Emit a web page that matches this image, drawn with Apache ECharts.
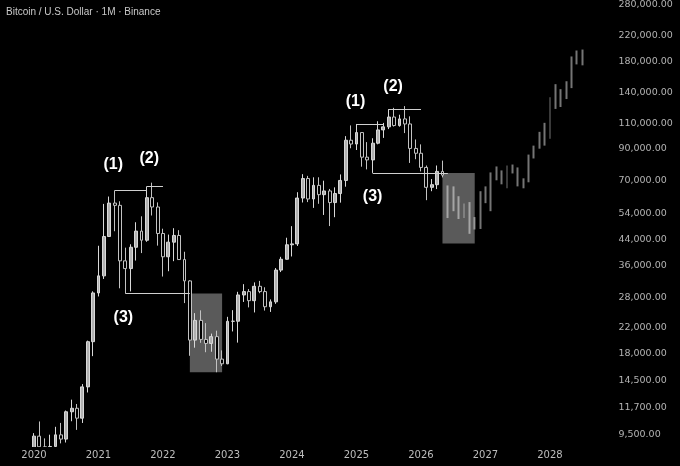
<!DOCTYPE html>
<html><head><meta charset="utf-8">
<script src="https://cdn.jsdelivr.net/npm/echarts@6/dist/echarts.min.js"></script>
<style>html,body{margin:0;padding:0;background:#000;}#c{width:680px;height:466px;}</style>
</head><body><div id="c"></div>
<script>
// ---- categories (monthly) ----
const months = [
 '2020-01','2020-02','2020-03','2020-04','2020-05','2020-06','2020-07','2020-08','2020-09','2020-10','2020-11','2020-12',
 '2021-01','2021-02','2021-03','2021-04','2021-05','2021-06','2021-07','2021-08','2021-09','2021-10','2021-11','2021-12',
 '2022-01','2022-02','2022-03','2022-04','2022-05','2022-06','2022-07','2022-08','2022-09','2022-10','2022-11','2022-12',
 '2023-01','2023-02','2023-03','2023-04','2023-05','2023-06','2023-07','2023-08','2023-09','2023-10','2023-11','2023-12',
 '2024-01','2024-02','2024-03','2024-04','2024-05','2024-06','2024-07','2024-08','2024-09','2024-10','2024-11','2024-12',
 '2025-01','2025-02','2025-03','2025-04','2025-05','2025-06','2025-07','2025-08','2025-09','2025-10','2025-11','2025-12',
 '2026-01','2026-02','2026-03','2026-04','2026-05','2026-06','2026-07','2026-08','2026-09','2026-10','2026-11','2026-12',
 '2027-01','2027-02','2027-03','2027-04','2027-05','2027-06','2027-07','2027-08','2027-09','2027-10','2027-11','2027-12',
 '2028-01','2028-02','2028-03','2028-04','2028-05','2028-06','2028-07','2028-08','2028-09','2028-10','2028-11'
];

// ---- actual monthly candles, from 2020-01 ----
const open = [
 7195,9352,8600,6412,8620,9448,9138,11335,11650,10777,13791,19695,
 28923,33092,45134,58739,57697,37254,35046,41462,47100,43821,61300,56951,
 46216,38467,43160,45510,37630,31801,19942,23296,20048,19423,20491,17165,
 16542,23125,23141,28465,29233,27210,30471,29232,25941,26962,34640,37723,
 42283,42580,61130,71280,60672,67540,62772,64628,58974,63328,70216,96408,
 93576,102429,84350,82548,94172,104591,107136,115764,108246,114049,109608,90360,
 87000,77800,66500,67900,75400
];
const high = [
 9578,10500,9188,9460,10067,10380,11444,12468,12050,14100,19863,29300,
 41950,58352,61844,64854,59592,41330,42448,50500,52920,67000,69000,59054,
 47990,45821,48190,47444,40023,31982,24668,25212,22800,20988,21480,18387,
 23960,25250,29184,31000,29820,31431,31804,30244,27483,35198,38450,44700,
 48969,64000,73777,72797,71979,71997,70079,65660,66498,73620,99588,108353,
 109588,102500,95000,97938,111980,110530,123218,124474,117900,126199,116400,97000,
 93300,79000,71000,79000,82100
];
const low = [
 6901,8450,3782,6150,8117,8833,8893,10518,9825,10375,13195,17572,
 28130,32296,44950,47044,30000,28805,29278,37332,39600,43283,53256,42000,
 32917,34322,37155,37578,26700,17622,18782,19520,18125,18190,15476,16256,
 16500,21351,19549,26942,25811,24800,28861,25166,24901,26538,34097,37615,
 38555,41884,59005,59191,56552,58402,53485,49000,52550,58946,66835,90500,
 89256,78258,76606,74508,93346,98200,105250,107350,107270,102000,80600,83000,
 75400,60100,64500,65600,71900
];
const close = [
 9352,8600,6410,8620,9448,9138,11335,11650,10777,13791,19695,28923,
 33092,45135,58740,57694,37253,35045,41462,47100,43824,61300,56950,46217,
 38467,43160,45511,37630,31801,19942,23293,20050,19423,20491,17164,16542,
 23125,23142,28465,29233,27210,30472,29232,25941,26963,34639,37724,42283,
 42580,61130,71280,60672,67540,62772,64628,58974,63327,70215,96408,93576,
 102429,84350,82548,94172,104591,107135,115764,108246,114049,109608,90360,87000,
 77800,66500,67900,75400,73200
];

// ---- projected (ghost) bars, from 2026-06 ----
const projStart = '2026-06';
const projLow = [
 52200,55100,51800,52200,46100,47700,47900,58700,55100,70300,68100,66000,74200,
 67000,66000,69200,83500,90200,92400,97500,123400,125300,133400,145400,175300,174000
];
const projHigh = [
 67500,67000,62000,58500,59200,52600,64500,67000,74800,78400,76000,79000,79600,
 77800,71400,86100,92400,103000,110600,135400,150000,144200,153500,186600,195600,197100
];

// ---- axis tick labels ----
const yTicks = [9500,11700,14500,18000,22000,28000,36000,44000,54000,70000,90000,110000,140000,180000,220000,280000];

// ---- annotations ----
const notes = [
 {text:'(1)', month:'2021-03', price:79600, dx:4},
 {text:'(2)', month:'2021-11', price:83460, dx:-3},
 {text:'(3)', month:'2021-06', price:23800, dx:-2},
 {text:'(1)', month:'2025-01', price:130500, dx:-1},
 {text:'(2)', month:'2025-08', price:147300, dx:-1},
 {text:'(3)', month:'2025-04', price:61760, dx:0}
];
// horizontal levels: [fromMonth, toMonth, price]
const levels = [
 ['2021-04','2021-10',64854],
 ['2021-10','2022-01',67000],
 ['2021-06','2022-06',28805],
 ['2025-01','2025-06',109588],
 ['2025-07','2026-01',123218],
 ['2025-04','2026-06',74508]
];
// shaded zones: [fromMonth, toMonth, top, bottom]
const zones = [
 ['2022-06','2022-12',28805,15476],
 ['2026-05','2026-11',74508,42700]
];

const realData = open.map((o,i)=>[o, close[i], low[i], high[i]]);
const ps = months.indexOf(projStart);
const projData = months.map((m,i)=>{
  const k = i - ps;
  if (k < 0 || k >= projLow.length) return '-';
  return [projLow[k], projHigh[k], projLow[k], projHigh[k]];
});

function fmt(v){
  return Math.round(v).toString().replace(/\B(?=(\d{3})+(?!\d))/g, ',') + '.00';
}

const chart = echarts.init(document.getElementById('c'), null, {renderer:'canvas'});
chart.setOption({
  backgroundColor:'#000',
  animation:false,
  title:{
    text:'Bitcoin / U.S. Dollar · 1M · Binance',
    left:1, top:2,
    textStyle:{color:'#c9c9c9', fontSize:10, fontWeight:'normal', fontFamily:'Liberation Sans'}
  },
  grid:{left:31.3, right:73.6, top:0, bottom:19},
  graphic:{elements:[
    {type:'rect', z:100, silent:true, shape:{x:0, y:447, width:610, height:19}, style:{fill:'#000'}}
  ]},
  xAxis:{
    type:'category', data:months, boundaryGap:true, z:150,
    axisLine:{show:false}, axisTick:{show:false}, splitLine:{show:false},
    axisLabel:{
      color:'#bdbdbd', fontSize:10, fontFamily:'DejaVu Sans', margin:3,
      interval:(idx, val)=> val.endsWith('-01'),
      formatter:(val)=> val.slice(0,4)
    }
  },
  yAxis:{
    type:'log', position:'right', min:8585, max:282400,
    axisLine:{show:false}, axisTick:{show:false}, splitLine:{show:false},
    axisLabel:{
      color:'#b3b3b3', fontSize:9.5, fontFamily:'DejaVu Sans', margin:12,
      customValues:yTicks, formatter:(v)=>fmt(v)
    }
  },
  series:[
    {
      type:'candlestick', name:'BTC', data:realData, barWidth:3.4, z:3, clip:true,
      itemStyle:{color:'#b0b0b0', color0:'#000', borderColor:'#d8d8d8', borderColor0:'#c2c2c2', borderWidth:1},
      markArea:{
        silent:true, z:1,
        itemStyle:{color:'#5a5a5a'},
        data: zones.map(z=>[{coord:[z[0], z[2]]},{coord:[z[1], z[3]]}])
      },
      markLine:{
        silent:true, symbol:['none','none'], z:5,
        label:{show:false},
        lineStyle:{color:'#d0d0d0', width:1, type:'solid'},
        data: levels.map(l=>[{coord:[l[0], l[2]]},{coord:[l[1], l[2]]}])
      },
      markPoint:{
        silent:true, symbol:'rect', symbolSize:1, z:6,
        itemStyle:{color:'rgba(0,0,0,0)'},
        label:{show:true, position:'inside', color:'#ffffff', fontSize:16, fontWeight:'bold', fontFamily:'Liberation Sans'},
        data: notes.map(n=>({coord:[n.month, n.price], value:n.text, label:{formatter:n.text, offset:[n.dx,0]}}))
      }
    },
    {
      type:'candlestick', name:'projection', data:projData, barWidth:2.4, z:2, clip:true,
      itemStyle:{color:'rgba(255,255,255,0.46)', color0:'rgba(255,255,255,0.46)', borderColor:'rgba(255,255,255,0)', borderColor0:'rgba(255,255,255,0)', borderWidth:0}
    }
  ]
});
</script>
</body></html>
